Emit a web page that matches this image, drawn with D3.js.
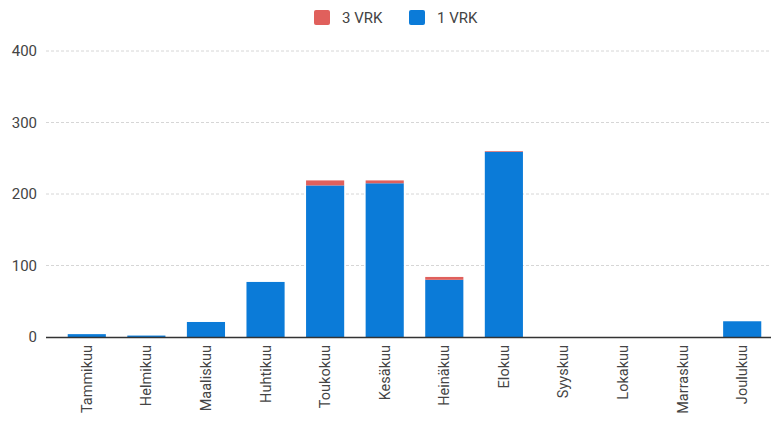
<!DOCTYPE html>
<html>
<head>
<meta charset="utf-8">
<script src="https://cdn.jsdelivr.net/npm/d3@7"></script>
<style>
  body { margin: 0; background: #fff; }
  text { font-family: Roboto, "Noto Sans", sans-serif; }
</style>
</head>
<body>
<svg id="chart" width="771" height="421"></svg>
<script>
// Monthly counts, stacked: 1 VRK on bottom, 3 VRK on top
const months = ["Tammikuu", "Helmikuu", "Maaliskuu", "Huhtikuu", "Toukokuu", "Kesäkuu",
                "Heinäkuu", "Elokuu", "Syyskuu", "Lokakuu", "Marraskuu", "Joulukuu"];
const vrk1 = [4, 2, 21, 77, 212, 215, 80, 259, 0, 0, 0, 22];
const vrk3 = [0, 0, 0, 0, 7, 4, 4, 1, 0, 0, 0, 0];
const yTicks = [0, 100, 200, 300, 400];

const seriesNames = ["1 VRK", "3 VRK"];
const colors = { "1 VRK": "#0b7bd8", "3 VRK": "#e0605c" };

const svg = d3.select("#chart");
const margin = { left: 46, right: 0, top: 51, bottom: 84 };
const width = 771, height = 421;

const rows = months.map((m, i) => ({ month: m, "1 VRK": vrk1[i], "3 VRK": vrk3[i] }));
const stacked = d3.stack().keys(seriesNames)(rows);

const x = d3.scaleBand().domain(months).range([57, 772]).paddingInner(0.36).paddingOuter(0.18);
const y = d3.scaleLinear().domain([0, 400]).range([height - margin.bottom, margin.top]);

// gridlines
svg.append("g").selectAll("line").data(yTicks.filter(d => d > 0)).enter().append("line")
    .attr("x1", margin.left).attr("x2", width)
    .attr("y1", d => y(d)).attr("y2", d => y(d))
    .attr("stroke", "#d6d6d6").attr("stroke-dasharray", "3,2").attr("stroke-width", 1);

// y labels
svg.append("g").selectAll("text").data(yTicks).enter().append("text")
    .attr("x", 37).attr("y", d => y(d)).attr("dy", "0.35em")
    .attr("text-anchor", "end").attr("font-size", 15).attr("fill", "#444")
    .text(d => d);

// bars
svg.append("g").selectAll("g").data(stacked).enter().append("g")
    .attr("fill", d => colors[d.key])
    .selectAll("rect").data(d => d).enter().append("rect")
    .attr("x", d => x(d.data.month))
    .attr("width", x.bandwidth())
    .attr("y", d => y(d[1]))
    .attr("height", d => y(d[0]) - y(d[1]));

// baseline
svg.append("line")
    .attr("x1", margin.left).attr("x2", width)
    .attr("y1", y(0) + 0.5).attr("y2", y(0) + 0.5)
    .attr("stroke", "#333").attr("stroke-width", 1.5);

// x labels
svg.append("g").selectAll("text").data(months).enter().append("text")
    .attr("transform", d => `translate(${x(d) + x.bandwidth() / 2 + 5},${y(0) + 8}) rotate(-90)`)
    .attr("text-anchor", "end").attr("font-size", 14.5).attr("fill", "#444")
    .text(d => d);

// legend
const legendItems = [{ name: "3 VRK", x: 314 }, { name: "1 VRK", x: 409 }];
const lg = svg.append("g").selectAll("g").data(legendItems).enter().append("g")
    .attr("transform", d => `translate(${d.x},10)`);
lg.append("rect").attr("width", 16).attr("height", 15).attr("rx", 2)
    .attr("fill", d => colors[d.name]);
lg.append("text").attr("x", 28).attr("y", 8).attr("dy", "0.35em")
    .attr("font-size", 15).attr("fill", "#444").text(d => d.name);
</script>
</body>
</html>
